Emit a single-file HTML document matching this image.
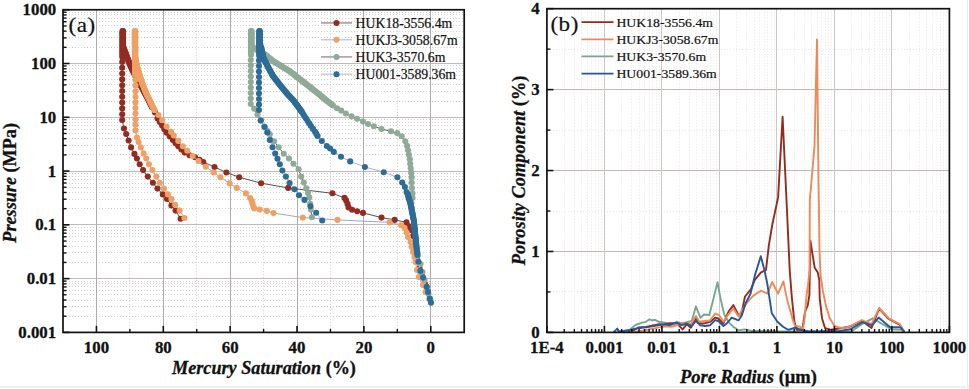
<!DOCTYPE html>
<html><head><meta charset="utf-8"><style>
html,body{margin:0;padding:0;background:#fff;}
svg{display:block;}
</style></head><body>
<svg width="969" height="389" viewBox="0 0 969 389">
<rect width="969" height="389" fill="#fff"/>
<line x1="63.0" y1="316.5" x2="464.2" y2="316.5" stroke="#d0d0d0" stroke-width="1" stroke-dasharray="1 2"/>
<line x1="63.0" y1="306.5" x2="464.2" y2="306.5" stroke="#d0d0d0" stroke-width="1" stroke-dasharray="1 2"/>
<line x1="63.0" y1="300.5" x2="464.2" y2="300.5" stroke="#d0d0d0" stroke-width="1" stroke-dasharray="1 2"/>
<line x1="63.0" y1="294.5" x2="464.2" y2="294.5" stroke="#d0d0d0" stroke-width="1" stroke-dasharray="1 2"/>
<line x1="63.0" y1="290.5" x2="464.2" y2="290.5" stroke="#d0d0d0" stroke-width="1" stroke-dasharray="1 2"/>
<line x1="63.0" y1="286.5" x2="464.2" y2="286.5" stroke="#d0d0d0" stroke-width="1" stroke-dasharray="1 2"/>
<line x1="63.0" y1="283.5" x2="464.2" y2="283.5" stroke="#d0d0d0" stroke-width="1" stroke-dasharray="1 2"/>
<line x1="63.0" y1="281.5" x2="464.2" y2="281.5" stroke="#d0d0d0" stroke-width="1" stroke-dasharray="1 2"/>
<line x1="63.0" y1="262.5" x2="464.2" y2="262.5" stroke="#d0d0d0" stroke-width="1" stroke-dasharray="1 2"/>
<line x1="63.0" y1="252.5" x2="464.2" y2="252.5" stroke="#d0d0d0" stroke-width="1" stroke-dasharray="1 2"/>
<line x1="63.0" y1="246.5" x2="464.2" y2="246.5" stroke="#d0d0d0" stroke-width="1" stroke-dasharray="1 2"/>
<line x1="63.0" y1="241.5" x2="464.2" y2="241.5" stroke="#d0d0d0" stroke-width="1" stroke-dasharray="1 2"/>
<line x1="63.0" y1="236.5" x2="464.2" y2="236.5" stroke="#d0d0d0" stroke-width="1" stroke-dasharray="1 2"/>
<line x1="63.0" y1="233.5" x2="464.2" y2="233.5" stroke="#d0d0d0" stroke-width="1" stroke-dasharray="1 2"/>
<line x1="63.0" y1="230.5" x2="464.2" y2="230.5" stroke="#d0d0d0" stroke-width="1" stroke-dasharray="1 2"/>
<line x1="63.0" y1="227.5" x2="464.2" y2="227.5" stroke="#d0d0d0" stroke-width="1" stroke-dasharray="1 2"/>
<line x1="63.0" y1="208.5" x2="464.2" y2="208.5" stroke="#d0d0d0" stroke-width="1" stroke-dasharray="1 2"/>
<line x1="63.0" y1="199.5" x2="464.2" y2="199.5" stroke="#d0d0d0" stroke-width="1" stroke-dasharray="1 2"/>
<line x1="63.0" y1="192.5" x2="464.2" y2="192.5" stroke="#d0d0d0" stroke-width="1" stroke-dasharray="1 2"/>
<line x1="63.0" y1="187.5" x2="464.2" y2="187.5" stroke="#d0d0d0" stroke-width="1" stroke-dasharray="1 2"/>
<line x1="63.0" y1="183.5" x2="464.2" y2="183.5" stroke="#d0d0d0" stroke-width="1" stroke-dasharray="1 2"/>
<line x1="63.0" y1="179.5" x2="464.2" y2="179.5" stroke="#d0d0d0" stroke-width="1" stroke-dasharray="1 2"/>
<line x1="63.0" y1="176.5" x2="464.2" y2="176.5" stroke="#d0d0d0" stroke-width="1" stroke-dasharray="1 2"/>
<line x1="63.0" y1="173.5" x2="464.2" y2="173.5" stroke="#d0d0d0" stroke-width="1" stroke-dasharray="1 2"/>
<line x1="63.0" y1="154.5" x2="464.2" y2="154.5" stroke="#d0d0d0" stroke-width="1" stroke-dasharray="1 2"/>
<line x1="63.0" y1="145.5" x2="464.2" y2="145.5" stroke="#d0d0d0" stroke-width="1" stroke-dasharray="1 2"/>
<line x1="63.0" y1="138.5" x2="464.2" y2="138.5" stroke="#d0d0d0" stroke-width="1" stroke-dasharray="1 2"/>
<line x1="63.0" y1="133.5" x2="464.2" y2="133.5" stroke="#d0d0d0" stroke-width="1" stroke-dasharray="1 2"/>
<line x1="63.0" y1="129.5" x2="464.2" y2="129.5" stroke="#d0d0d0" stroke-width="1" stroke-dasharray="1 2"/>
<line x1="63.0" y1="125.5" x2="464.2" y2="125.5" stroke="#d0d0d0" stroke-width="1" stroke-dasharray="1 2"/>
<line x1="63.0" y1="122.5" x2="464.2" y2="122.5" stroke="#d0d0d0" stroke-width="1" stroke-dasharray="1 2"/>
<line x1="63.0" y1="119.5" x2="464.2" y2="119.5" stroke="#d0d0d0" stroke-width="1" stroke-dasharray="1 2"/>
<line x1="63.0" y1="101.5" x2="464.2" y2="101.5" stroke="#d0d0d0" stroke-width="1" stroke-dasharray="1 2"/>
<line x1="63.0" y1="91.5" x2="464.2" y2="91.5" stroke="#d0d0d0" stroke-width="1" stroke-dasharray="1 2"/>
<line x1="63.0" y1="84.5" x2="464.2" y2="84.5" stroke="#d0d0d0" stroke-width="1" stroke-dasharray="1 2"/>
<line x1="63.0" y1="79.5" x2="464.2" y2="79.5" stroke="#d0d0d0" stroke-width="1" stroke-dasharray="1 2"/>
<line x1="63.0" y1="75.5" x2="464.2" y2="75.5" stroke="#d0d0d0" stroke-width="1" stroke-dasharray="1 2"/>
<line x1="63.0" y1="71.5" x2="464.2" y2="71.5" stroke="#d0d0d0" stroke-width="1" stroke-dasharray="1 2"/>
<line x1="63.0" y1="68.5" x2="464.2" y2="68.5" stroke="#d0d0d0" stroke-width="1" stroke-dasharray="1 2"/>
<line x1="63.0" y1="65.5" x2="464.2" y2="65.5" stroke="#d0d0d0" stroke-width="1" stroke-dasharray="1 2"/>
<line x1="63.0" y1="47.5" x2="464.2" y2="47.5" stroke="#d0d0d0" stroke-width="1" stroke-dasharray="1 2"/>
<line x1="63.0" y1="37.5" x2="464.2" y2="37.5" stroke="#d0d0d0" stroke-width="1" stroke-dasharray="1 2"/>
<line x1="63.0" y1="31.5" x2="464.2" y2="31.5" stroke="#d0d0d0" stroke-width="1" stroke-dasharray="1 2"/>
<line x1="63.0" y1="25.5" x2="464.2" y2="25.5" stroke="#d0d0d0" stroke-width="1" stroke-dasharray="1 2"/>
<line x1="63.0" y1="21.5" x2="464.2" y2="21.5" stroke="#d0d0d0" stroke-width="1" stroke-dasharray="1 2"/>
<line x1="63.0" y1="18.5" x2="464.2" y2="18.5" stroke="#d0d0d0" stroke-width="1" stroke-dasharray="1 2"/>
<line x1="63.0" y1="14.5" x2="464.2" y2="14.5" stroke="#d0d0d0" stroke-width="1" stroke-dasharray="1 2"/>
<line x1="63.0" y1="12.5" x2="464.2" y2="12.5" stroke="#d0d0d0" stroke-width="1" stroke-dasharray="1 2"/>
<line x1="129.5" y1="9.75" x2="129.5" y2="332.4" stroke="#d0d0d0" stroke-width="1" stroke-dasharray="1 2"/>
<line x1="196.5" y1="9.75" x2="196.5" y2="332.4" stroke="#d0d0d0" stroke-width="1" stroke-dasharray="1 2"/>
<line x1="263.5" y1="9.75" x2="263.5" y2="332.4" stroke="#d0d0d0" stroke-width="1" stroke-dasharray="1 2"/>
<line x1="330.5" y1="9.75" x2="330.5" y2="332.4" stroke="#d0d0d0" stroke-width="1" stroke-dasharray="1 2"/>
<line x1="397.5" y1="9.75" x2="397.5" y2="332.4" stroke="#d0d0d0" stroke-width="1" stroke-dasharray="1 2"/>
<line x1="63.0" y1="278.5" x2="464.2" y2="278.5" stroke="#c6bab6" stroke-width="1"/>
<line x1="63.0" y1="224.5" x2="464.2" y2="224.5" stroke="#c6bab6" stroke-width="1"/>
<line x1="63.0" y1="171.5" x2="464.2" y2="171.5" stroke="#c6bab6" stroke-width="1"/>
<line x1="63.0" y1="117.5" x2="464.2" y2="117.5" stroke="#c6bab6" stroke-width="1"/>
<line x1="63.0" y1="63.5" x2="464.2" y2="63.5" stroke="#c6bab6" stroke-width="1"/>
<line x1="96.5" y1="9.75" x2="96.5" y2="332.4" stroke="#b2aaaa" stroke-width="1"/>
<line x1="163.5" y1="9.75" x2="163.5" y2="332.4" stroke="#b2aaaa" stroke-width="1"/>
<line x1="230.5" y1="9.75" x2="230.5" y2="332.4" stroke="#b2aaaa" stroke-width="1"/>
<line x1="297.5" y1="9.75" x2="297.5" y2="332.4" stroke="#b2aaaa" stroke-width="1"/>
<line x1="363.5" y1="9.75" x2="363.5" y2="332.4" stroke="#b2aaaa" stroke-width="1"/>
<line x1="430.5" y1="9.75" x2="430.5" y2="332.4" stroke="#b2aaaa" stroke-width="1"/>
<line x1="564.5" y1="8.7" x2="564.5" y2="332.4" stroke="#e6e6e6" stroke-width="1" stroke-dasharray="1 2"/>
<line x1="574.5" y1="8.7" x2="574.5" y2="332.4" stroke="#e6e6e6" stroke-width="1" stroke-dasharray="1 2"/>
<line x1="581.5" y1="8.7" x2="581.5" y2="332.4" stroke="#e6e6e6" stroke-width="1" stroke-dasharray="1 2"/>
<line x1="587.5" y1="8.7" x2="587.5" y2="332.4" stroke="#e6e6e6" stroke-width="1" stroke-dasharray="1 2"/>
<line x1="591.5" y1="8.7" x2="591.5" y2="332.4" stroke="#e6e6e6" stroke-width="1" stroke-dasharray="1 2"/>
<line x1="595.5" y1="8.7" x2="595.5" y2="332.4" stroke="#e6e6e6" stroke-width="1" stroke-dasharray="1 2"/>
<line x1="598.5" y1="8.7" x2="598.5" y2="332.4" stroke="#e6e6e6" stroke-width="1" stroke-dasharray="1 2"/>
<line x1="601.5" y1="8.7" x2="601.5" y2="332.4" stroke="#e6e6e6" stroke-width="1" stroke-dasharray="1 2"/>
<line x1="621.5" y1="8.7" x2="621.5" y2="332.4" stroke="#e6e6e6" stroke-width="1" stroke-dasharray="1 2"/>
<line x1="631.5" y1="8.7" x2="631.5" y2="332.4" stroke="#e6e6e6" stroke-width="1" stroke-dasharray="1 2"/>
<line x1="639.5" y1="8.7" x2="639.5" y2="332.4" stroke="#e6e6e6" stroke-width="1" stroke-dasharray="1 2"/>
<line x1="644.5" y1="8.7" x2="644.5" y2="332.4" stroke="#e6e6e6" stroke-width="1" stroke-dasharray="1 2"/>
<line x1="649.5" y1="8.7" x2="649.5" y2="332.4" stroke="#e6e6e6" stroke-width="1" stroke-dasharray="1 2"/>
<line x1="652.5" y1="8.7" x2="652.5" y2="332.4" stroke="#e6e6e6" stroke-width="1" stroke-dasharray="1 2"/>
<line x1="656.5" y1="8.7" x2="656.5" y2="332.4" stroke="#e6e6e6" stroke-width="1" stroke-dasharray="1 2"/>
<line x1="659.5" y1="8.7" x2="659.5" y2="332.4" stroke="#e6e6e6" stroke-width="1" stroke-dasharray="1 2"/>
<line x1="679.5" y1="8.7" x2="679.5" y2="332.4" stroke="#e6e6e6" stroke-width="1" stroke-dasharray="1 2"/>
<line x1="689.5" y1="8.7" x2="689.5" y2="332.4" stroke="#e6e6e6" stroke-width="1" stroke-dasharray="1 2"/>
<line x1="696.5" y1="8.7" x2="696.5" y2="332.4" stroke="#e6e6e6" stroke-width="1" stroke-dasharray="1 2"/>
<line x1="702.5" y1="8.7" x2="702.5" y2="332.4" stroke="#e6e6e6" stroke-width="1" stroke-dasharray="1 2"/>
<line x1="706.5" y1="8.7" x2="706.5" y2="332.4" stroke="#e6e6e6" stroke-width="1" stroke-dasharray="1 2"/>
<line x1="710.5" y1="8.7" x2="710.5" y2="332.4" stroke="#e6e6e6" stroke-width="1" stroke-dasharray="1 2"/>
<line x1="713.5" y1="8.7" x2="713.5" y2="332.4" stroke="#e6e6e6" stroke-width="1" stroke-dasharray="1 2"/>
<line x1="716.5" y1="8.7" x2="716.5" y2="332.4" stroke="#e6e6e6" stroke-width="1" stroke-dasharray="1 2"/>
<line x1="736.5" y1="8.7" x2="736.5" y2="332.4" stroke="#e6e6e6" stroke-width="1" stroke-dasharray="1 2"/>
<line x1="746.5" y1="8.7" x2="746.5" y2="332.4" stroke="#e6e6e6" stroke-width="1" stroke-dasharray="1 2"/>
<line x1="754.5" y1="8.7" x2="754.5" y2="332.4" stroke="#e6e6e6" stroke-width="1" stroke-dasharray="1 2"/>
<line x1="759.5" y1="8.7" x2="759.5" y2="332.4" stroke="#e6e6e6" stroke-width="1" stroke-dasharray="1 2"/>
<line x1="764.5" y1="8.7" x2="764.5" y2="332.4" stroke="#e6e6e6" stroke-width="1" stroke-dasharray="1 2"/>
<line x1="767.5" y1="8.7" x2="767.5" y2="332.4" stroke="#e6e6e6" stroke-width="1" stroke-dasharray="1 2"/>
<line x1="771.5" y1="8.7" x2="771.5" y2="332.4" stroke="#e6e6e6" stroke-width="1" stroke-dasharray="1 2"/>
<line x1="774.5" y1="8.7" x2="774.5" y2="332.4" stroke="#e6e6e6" stroke-width="1" stroke-dasharray="1 2"/>
<line x1="794.5" y1="8.7" x2="794.5" y2="332.4" stroke="#e6e6e6" stroke-width="1" stroke-dasharray="1 2"/>
<line x1="804.5" y1="8.7" x2="804.5" y2="332.4" stroke="#e6e6e6" stroke-width="1" stroke-dasharray="1 2"/>
<line x1="811.5" y1="8.7" x2="811.5" y2="332.4" stroke="#e6e6e6" stroke-width="1" stroke-dasharray="1 2"/>
<line x1="817.5" y1="8.7" x2="817.5" y2="332.4" stroke="#e6e6e6" stroke-width="1" stroke-dasharray="1 2"/>
<line x1="821.5" y1="8.7" x2="821.5" y2="332.4" stroke="#e6e6e6" stroke-width="1" stroke-dasharray="1 2"/>
<line x1="825.5" y1="8.7" x2="825.5" y2="332.4" stroke="#e6e6e6" stroke-width="1" stroke-dasharray="1 2"/>
<line x1="828.5" y1="8.7" x2="828.5" y2="332.4" stroke="#e6e6e6" stroke-width="1" stroke-dasharray="1 2"/>
<line x1="831.5" y1="8.7" x2="831.5" y2="332.4" stroke="#e6e6e6" stroke-width="1" stroke-dasharray="1 2"/>
<line x1="851.5" y1="8.7" x2="851.5" y2="332.4" stroke="#e6e6e6" stroke-width="1" stroke-dasharray="1 2"/>
<line x1="861.5" y1="8.7" x2="861.5" y2="332.4" stroke="#e6e6e6" stroke-width="1" stroke-dasharray="1 2"/>
<line x1="869.5" y1="8.7" x2="869.5" y2="332.4" stroke="#e6e6e6" stroke-width="1" stroke-dasharray="1 2"/>
<line x1="874.5" y1="8.7" x2="874.5" y2="332.4" stroke="#e6e6e6" stroke-width="1" stroke-dasharray="1 2"/>
<line x1="879.5" y1="8.7" x2="879.5" y2="332.4" stroke="#e6e6e6" stroke-width="1" stroke-dasharray="1 2"/>
<line x1="882.5" y1="8.7" x2="882.5" y2="332.4" stroke="#e6e6e6" stroke-width="1" stroke-dasharray="1 2"/>
<line x1="886.5" y1="8.7" x2="886.5" y2="332.4" stroke="#e6e6e6" stroke-width="1" stroke-dasharray="1 2"/>
<line x1="889.5" y1="8.7" x2="889.5" y2="332.4" stroke="#e6e6e6" stroke-width="1" stroke-dasharray="1 2"/>
<line x1="909.5" y1="8.7" x2="909.5" y2="332.4" stroke="#e6e6e6" stroke-width="1" stroke-dasharray="1 2"/>
<line x1="919.5" y1="8.7" x2="919.5" y2="332.4" stroke="#e6e6e6" stroke-width="1" stroke-dasharray="1 2"/>
<line x1="926.5" y1="8.7" x2="926.5" y2="332.4" stroke="#e6e6e6" stroke-width="1" stroke-dasharray="1 2"/>
<line x1="932.5" y1="8.7" x2="932.5" y2="332.4" stroke="#e6e6e6" stroke-width="1" stroke-dasharray="1 2"/>
<line x1="936.5" y1="8.7" x2="936.5" y2="332.4" stroke="#e6e6e6" stroke-width="1" stroke-dasharray="1 2"/>
<line x1="940.5" y1="8.7" x2="940.5" y2="332.4" stroke="#e6e6e6" stroke-width="1" stroke-dasharray="1 2"/>
<line x1="943.5" y1="8.7" x2="943.5" y2="332.4" stroke="#e6e6e6" stroke-width="1" stroke-dasharray="1 2"/>
<line x1="946.5" y1="8.7" x2="946.5" y2="332.4" stroke="#e6e6e6" stroke-width="1" stroke-dasharray="1 2"/>
<line x1="546.9" y1="291.5" x2="949.4" y2="291.5" stroke="#e6e6e6" stroke-width="1" stroke-dasharray="1 2"/>
<line x1="546.9" y1="211.5" x2="949.4" y2="211.5" stroke="#e6e6e6" stroke-width="1" stroke-dasharray="1 2"/>
<line x1="546.9" y1="130.5" x2="949.4" y2="130.5" stroke="#e6e6e6" stroke-width="1" stroke-dasharray="1 2"/>
<line x1="546.9" y1="49.5" x2="949.4" y2="49.5" stroke="#e6e6e6" stroke-width="1" stroke-dasharray="1 2"/>
<line x1="546.9" y1="251.5" x2="949.4" y2="251.5" stroke="#c4b8b2" stroke-width="1"/>
<line x1="546.9" y1="170.5" x2="949.4" y2="170.5" stroke="#c4b8b2" stroke-width="1"/>
<line x1="546.9" y1="89.5" x2="949.4" y2="89.5" stroke="#c4b8b2" stroke-width="1"/>
<line x1="604.5" y1="8.7" x2="604.5" y2="332.4" stroke="#cdc7c7" stroke-width="1"/>
<line x1="661.5" y1="8.7" x2="661.5" y2="332.4" stroke="#cdc7c7" stroke-width="1"/>
<line x1="719.5" y1="8.7" x2="719.5" y2="332.4" stroke="#cdc7c7" stroke-width="1"/>
<line x1="776.5" y1="8.7" x2="776.5" y2="332.4" stroke="#cdc7c7" stroke-width="1"/>
<line x1="834.5" y1="8.7" x2="834.5" y2="332.4" stroke="#cdc7c7" stroke-width="1"/>
<line x1="891.5" y1="8.7" x2="891.5" y2="332.4" stroke="#cdc7c7" stroke-width="1"/>
<g>
<path d="M123,31 L123,46 L125,51.5 L127.2,57.5 L129.5,63.5 L131.7,68.4 L134.5,74 L137.5,79.5 L141,86 L144.8,93 L148.5,100 L152,107 L152,107 L155,112.5 L157.6,118.4 L162.1,125.6 L166.6,132.8 L172.9,140 L178.3,146.3 L184.6,152.6 L189.5,155.3 L195,157.3 L199.5,159.8 L203.3,162 L214.5,167 L226.4,172.5 L239.2,177.2 L261.1,183.2 L288.2,187.9 L332.4,193.3 L344.5,197.9 L346.1,200.4 L347.5,203.9 L348.6,207.4 L352.1,209.7 L357.2,211.3 L363,212.9 L381.5,217.6 L394.7,219.9 L406.5,222.3 L408.5,226.1 L410.5,230 L413,236 L414.2,244 L415.8,252 L417.3,260 L419.5,268 L422,276 L425,284 L427.5,292 L429.8,299" fill="none" stroke="#5a5050" stroke-width="1"/>
<g fill="#942b21"><circle cx="123" cy="31" r="3.05"/><circle cx="123" cy="32.25" r="3.05"/><circle cx="123" cy="33.5" r="3.05"/><circle cx="123" cy="34.75" r="3.05"/><circle cx="123" cy="36" r="3.05"/><circle cx="123" cy="37.25" r="3.05"/><circle cx="123" cy="38.5" r="3.05"/><circle cx="123" cy="39.75" r="3.05"/><circle cx="123" cy="41" r="3.05"/><circle cx="123" cy="42.25" r="3.05"/><circle cx="123" cy="43.5" r="3.05"/><circle cx="123" cy="44.75" r="3.05"/><circle cx="123" cy="46" r="3.05"/><circle cx="123.5" cy="47.38" r="3.05"/><circle cx="124" cy="48.75" r="3.05"/><circle cx="124.5" cy="50.12" r="3.05"/><circle cx="125" cy="51.5" r="3.05"/><circle cx="125.44" cy="52.7" r="3.05"/><circle cx="125.88" cy="53.9" r="3.05"/><circle cx="126.32" cy="55.1" r="3.05"/><circle cx="126.76" cy="56.3" r="3.05"/><circle cx="127.2" cy="57.5" r="3.05"/><circle cx="127.66" cy="58.7" r="3.05"/><circle cx="128.12" cy="59.9" r="3.05"/><circle cx="128.58" cy="61.1" r="3.05"/><circle cx="129.04" cy="62.3" r="3.05"/><circle cx="129.5" cy="63.5" r="3.05"/><circle cx="130.05" cy="64.72" r="3.05"/><circle cx="130.6" cy="65.95" r="3.05"/><circle cx="131.15" cy="67.18" r="3.05"/><circle cx="131.7" cy="68.4" r="3.05"/><circle cx="132.26" cy="69.52" r="3.05"/><circle cx="132.82" cy="70.64" r="3.05"/><circle cx="133.38" cy="71.76" r="3.05"/><circle cx="133.94" cy="72.88" r="3.05"/><circle cx="134.5" cy="74" r="3.05"/><circle cx="135.1" cy="75.1" r="3.05"/><circle cx="135.7" cy="76.2" r="3.05"/><circle cx="136.3" cy="77.3" r="3.05"/><circle cx="136.9" cy="78.4" r="3.05"/><circle cx="137.5" cy="79.5" r="3.05"/><circle cx="138.08" cy="80.58" r="3.05"/><circle cx="138.67" cy="81.67" r="3.05"/><circle cx="139.25" cy="82.75" r="3.05"/><circle cx="139.83" cy="83.83" r="3.05"/><circle cx="140.42" cy="84.92" r="3.05"/><circle cx="141" cy="86" r="3.05"/><circle cx="141.63" cy="87.17" r="3.05"/><circle cx="142.27" cy="88.33" r="3.05"/><circle cx="142.9" cy="89.5" r="3.05"/><circle cx="143.53" cy="90.67" r="3.05"/><circle cx="144.17" cy="91.83" r="3.05"/><circle cx="144.8" cy="93" r="3.05"/><circle cx="145.42" cy="94.17" r="3.05"/><circle cx="146.03" cy="95.33" r="3.05"/><circle cx="146.65" cy="96.5" r="3.05"/><circle cx="147.27" cy="97.67" r="3.05"/><circle cx="147.88" cy="98.83" r="3.05"/><circle cx="148.5" cy="100" r="3.05"/><circle cx="149.08" cy="101.17" r="3.05"/><circle cx="149.67" cy="102.33" r="3.05"/><circle cx="150.25" cy="103.5" r="3.05"/><circle cx="150.83" cy="104.67" r="3.05"/><circle cx="151.42" cy="105.83" r="3.05"/><circle cx="152" cy="107" r="3.05"/><circle cx="152" cy="107" r="3.05"/><circle cx="155" cy="112.5" r="3.05"/><circle cx="157.6" cy="118.4" r="3.05"/><circle cx="159.85" cy="122" r="3.05"/><circle cx="162.1" cy="125.6" r="3.05"/><circle cx="164.35" cy="129.2" r="3.05"/><circle cx="166.6" cy="132.8" r="3.05"/><circle cx="169.75" cy="136.4" r="3.05"/><circle cx="172.9" cy="140" r="3.05"/><circle cx="175.6" cy="143.15" r="3.05"/><circle cx="178.3" cy="146.3" r="3.05"/><circle cx="181.45" cy="149.45" r="3.05"/><circle cx="184.6" cy="152.6" r="3.05"/><circle cx="189.5" cy="155.3" r="3.05"/><circle cx="195" cy="157.3" r="3.05"/><circle cx="199.5" cy="159.8" r="3.05"/><circle cx="203.3" cy="162" r="3.05"/><circle cx="214.5" cy="167" r="3.05"/><circle cx="226.4" cy="172.5" r="3.05"/><circle cx="239.2" cy="177.2" r="3.05"/><circle cx="261.1" cy="183.2" r="3.05"/><circle cx="288.2" cy="187.9" r="3.05"/><circle cx="332.4" cy="193.3" r="3.05"/><circle cx="344.5" cy="197.9" r="3.05"/><circle cx="346.1" cy="200.4" r="3.05"/><circle cx="347.5" cy="203.9" r="3.05"/><circle cx="348.6" cy="207.4" r="3.05"/><circle cx="352.1" cy="209.7" r="3.05"/><circle cx="357.2" cy="211.3" r="3.05"/><circle cx="363" cy="212.9" r="3.05"/><circle cx="381.5" cy="217.6" r="3.05"/><circle cx="394.7" cy="219.9" r="3.05"/><circle cx="406.5" cy="222.3" r="3.05"/><circle cx="408.5" cy="226.1" r="3.05"/><circle cx="410.5" cy="230" r="3.05"/><circle cx="413" cy="236" r="3.05"/><circle cx="414.2" cy="244" r="3.05"/><circle cx="415.8" cy="252" r="3.05"/><circle cx="417.3" cy="260" r="3.05"/><circle cx="419.5" cy="268" r="3.05"/><circle cx="422" cy="276" r="3.05"/><circle cx="425" cy="284" r="3.05"/><circle cx="427.5" cy="292" r="3.05"/><circle cx="429.8" cy="299" r="3.05"/></g>
<path d="M122.5,31 L122.5,57.5 L122.2,62 L122.2,67.8 L122.2,73.6 L122.2,79.4 L122.2,85.2 L122.2,91 L122.2,96.8 L122.2,102.6 L122.2,108.4 L122.2,114.2 L122.2,120 L124,128.5 L126.2,134 L128.6,140.5 L131.1,147.4 L134.4,153.9 L136.9,158.5 L139.7,164.3 L143.1,170.1 L147.8,176.6 L152.9,182.8 L157.5,188.6 L162.8,194.4 L167,199 L171.4,205.5 L175.6,210.6 L180.6,218.7" fill="none" stroke="#5a5050" stroke-width="1"/>
<g fill="#942b21"><circle cx="122.5" cy="31" r="3.05"/><circle cx="122.5" cy="32.2" r="3.05"/><circle cx="122.5" cy="33.41" r="3.05"/><circle cx="122.5" cy="34.61" r="3.05"/><circle cx="122.5" cy="35.82" r="3.05"/><circle cx="122.5" cy="37.02" r="3.05"/><circle cx="122.5" cy="38.23" r="3.05"/><circle cx="122.5" cy="39.43" r="3.05"/><circle cx="122.5" cy="40.64" r="3.05"/><circle cx="122.5" cy="41.84" r="3.05"/><circle cx="122.5" cy="43.05" r="3.05"/><circle cx="122.5" cy="44.25" r="3.05"/><circle cx="122.5" cy="45.45" r="3.05"/><circle cx="122.5" cy="46.66" r="3.05"/><circle cx="122.5" cy="47.86" r="3.05"/><circle cx="122.5" cy="49.07" r="3.05"/><circle cx="122.5" cy="50.27" r="3.05"/><circle cx="122.5" cy="51.48" r="3.05"/><circle cx="122.5" cy="52.68" r="3.05"/><circle cx="122.5" cy="53.89" r="3.05"/><circle cx="122.5" cy="55.09" r="3.05"/><circle cx="122.5" cy="56.3" r="3.05"/><circle cx="122.5" cy="57.5" r="3.05"/><circle cx="122.2" cy="62" r="3.05"/><circle cx="122.2" cy="67.8" r="3.05"/><circle cx="122.2" cy="73.6" r="3.05"/><circle cx="122.2" cy="79.4" r="3.05"/><circle cx="122.2" cy="85.2" r="3.05"/><circle cx="122.2" cy="91" r="3.05"/><circle cx="122.2" cy="96.8" r="3.05"/><circle cx="122.2" cy="102.6" r="3.05"/><circle cx="122.2" cy="108.4" r="3.05"/><circle cx="122.2" cy="114.2" r="3.05"/><circle cx="122.2" cy="120" r="3.05"/><circle cx="124" cy="128.5" r="3.05"/><circle cx="126.2" cy="134" r="3.05"/><circle cx="128.6" cy="140.5" r="3.05"/><circle cx="131.1" cy="147.4" r="3.05"/><circle cx="134.4" cy="153.9" r="3.05"/><circle cx="136.9" cy="158.5" r="3.05"/><circle cx="139.7" cy="164.3" r="3.05"/><circle cx="143.1" cy="170.1" r="3.05"/><circle cx="147.8" cy="176.6" r="3.05"/><circle cx="152.9" cy="182.8" r="3.05"/><circle cx="157.5" cy="188.6" r="3.05"/><circle cx="162.8" cy="194.4" r="3.05"/><circle cx="167" cy="199" r="3.05"/><circle cx="171.4" cy="205.5" r="3.05"/><circle cx="175.6" cy="210.6" r="3.05"/><circle cx="180.6" cy="218.7" r="3.05"/></g>
<path d="M134.8,31 L134.8,45 L135,55 L136,62 L137.5,68 L139.5,75 L141.8,82 L144,88 L146.5,94 L149.5,100 L151.8,105 L154.5,110 L154.5,110 L158.5,115 L162.1,120.2 L166.6,126.5 L171.1,131.9 L173.8,135.5 L178.3,140.9 L182.8,146.3 L187.3,150.8 L192.7,156 L198.5,161 L205.8,166.7 L213.7,172.5 L220.4,177.2 L229.7,183.4 L236.7,187.9 L245.9,193.4 L250.1,198.1 L251.8,200.9 L252.6,203.7 L253.4,206.7 L254.3,208.4 L259.8,209.6 L266.8,210.9 L273.5,213.1 L302.8,217.6 L337.5,219.9 L389.6,222.4 L401.2,225.2 L404.6,228 L406.6,232.5 L407.9,237 L410.5,242 L411.7,247 L413,252 L414.5,257 L415.5,262 L417,270 L418.8,277 L423,285 L425.5,292" fill="none" stroke="#98a8dc" stroke-width="1"/>
<g fill="#efa064"><circle cx="134.8" cy="31" r="3.05"/><circle cx="134.8" cy="32.27" r="3.05"/><circle cx="134.8" cy="33.55" r="3.05"/><circle cx="134.8" cy="34.82" r="3.05"/><circle cx="134.8" cy="36.09" r="3.05"/><circle cx="134.8" cy="37.36" r="3.05"/><circle cx="134.8" cy="38.64" r="3.05"/><circle cx="134.8" cy="39.91" r="3.05"/><circle cx="134.8" cy="41.18" r="3.05"/><circle cx="134.8" cy="42.45" r="3.05"/><circle cx="134.8" cy="43.73" r="3.05"/><circle cx="134.8" cy="45" r="3.05"/><circle cx="134.83" cy="46.25" r="3.05"/><circle cx="134.85" cy="47.5" r="3.05"/><circle cx="134.88" cy="48.75" r="3.05"/><circle cx="134.9" cy="50" r="3.05"/><circle cx="134.93" cy="51.25" r="3.05"/><circle cx="134.95" cy="52.5" r="3.05"/><circle cx="134.97" cy="53.75" r="3.05"/><circle cx="135" cy="55" r="3.05"/><circle cx="135.2" cy="56.4" r="3.05"/><circle cx="135.4" cy="57.8" r="3.05"/><circle cx="135.6" cy="59.2" r="3.05"/><circle cx="135.8" cy="60.6" r="3.05"/><circle cx="136" cy="62" r="3.05"/><circle cx="136.3" cy="63.2" r="3.05"/><circle cx="136.6" cy="64.4" r="3.05"/><circle cx="136.9" cy="65.6" r="3.05"/><circle cx="137.2" cy="66.8" r="3.05"/><circle cx="137.5" cy="68" r="3.05"/><circle cx="137.83" cy="69.17" r="3.05"/><circle cx="138.17" cy="70.33" r="3.05"/><circle cx="138.5" cy="71.5" r="3.05"/><circle cx="138.83" cy="72.67" r="3.05"/><circle cx="139.17" cy="73.83" r="3.05"/><circle cx="139.5" cy="75" r="3.05"/><circle cx="139.88" cy="76.17" r="3.05"/><circle cx="140.27" cy="77.33" r="3.05"/><circle cx="140.65" cy="78.5" r="3.05"/><circle cx="141.03" cy="79.67" r="3.05"/><circle cx="141.42" cy="80.83" r="3.05"/><circle cx="141.8" cy="82" r="3.05"/><circle cx="142.24" cy="83.2" r="3.05"/><circle cx="142.68" cy="84.4" r="3.05"/><circle cx="143.12" cy="85.6" r="3.05"/><circle cx="143.56" cy="86.8" r="3.05"/><circle cx="144" cy="88" r="3.05"/><circle cx="144.5" cy="89.2" r="3.05"/><circle cx="145" cy="90.4" r="3.05"/><circle cx="145.5" cy="91.6" r="3.05"/><circle cx="146" cy="92.8" r="3.05"/><circle cx="146.5" cy="94" r="3.05"/><circle cx="147.1" cy="95.2" r="3.05"/><circle cx="147.7" cy="96.4" r="3.05"/><circle cx="148.3" cy="97.6" r="3.05"/><circle cx="148.9" cy="98.8" r="3.05"/><circle cx="149.5" cy="100" r="3.05"/><circle cx="150.07" cy="101.25" r="3.05"/><circle cx="150.65" cy="102.5" r="3.05"/><circle cx="151.23" cy="103.75" r="3.05"/><circle cx="151.8" cy="105" r="3.05"/><circle cx="152.48" cy="106.25" r="3.05"/><circle cx="153.15" cy="107.5" r="3.05"/><circle cx="153.82" cy="108.75" r="3.05"/><circle cx="154.5" cy="110" r="3.05"/><circle cx="154.5" cy="110" r="3.05"/><circle cx="158.5" cy="115" r="3.05"/><circle cx="162.1" cy="120.2" r="3.05"/><circle cx="166.6" cy="126.5" r="3.05"/><circle cx="171.1" cy="131.9" r="3.05"/><circle cx="173.8" cy="135.5" r="3.05"/><circle cx="178.3" cy="140.9" r="3.05"/><circle cx="182.8" cy="146.3" r="3.05"/><circle cx="187.3" cy="150.8" r="3.05"/><circle cx="192.7" cy="156" r="3.05"/><circle cx="198.5" cy="161" r="3.05"/><circle cx="205.8" cy="166.7" r="3.05"/><circle cx="213.7" cy="172.5" r="3.05"/><circle cx="220.4" cy="177.2" r="3.05"/><circle cx="229.7" cy="183.4" r="3.05"/><circle cx="236.7" cy="187.9" r="3.05"/><circle cx="245.9" cy="193.4" r="3.05"/><circle cx="250.1" cy="198.1" r="3.05"/><circle cx="251.8" cy="200.9" r="3.05"/><circle cx="252.6" cy="203.7" r="3.05"/><circle cx="253.4" cy="206.7" r="3.05"/><circle cx="254.3" cy="208.4" r="3.05"/><circle cx="259.8" cy="209.6" r="3.05"/><circle cx="266.8" cy="210.9" r="3.05"/><circle cx="273.5" cy="213.1" r="3.05"/><circle cx="302.8" cy="217.6" r="3.05"/><circle cx="337.5" cy="219.9" r="3.05"/><circle cx="389.6" cy="222.4" r="3.05"/><circle cx="401.2" cy="225.2" r="3.05"/><circle cx="404.6" cy="228" r="3.05"/><circle cx="406.6" cy="232.5" r="3.05"/><circle cx="407.9" cy="237" r="3.05"/><circle cx="410.5" cy="242" r="3.05"/><circle cx="411.7" cy="247" r="3.05"/><circle cx="413" cy="252" r="3.05"/><circle cx="414.5" cy="257" r="3.05"/><circle cx="415.5" cy="262" r="3.05"/><circle cx="417" cy="270" r="3.05"/><circle cx="418.8" cy="277" r="3.05"/><circle cx="423" cy="285" r="3.05"/><circle cx="425.5" cy="292" r="3.05"/></g>
<path d="M135.2,31 L135.2,75 L135.5,80 L135.5,85.6 L135.5,91.2 L135.5,96.8 L135.5,102.4 L135.5,108 L135.5,113.6 L135.5,119.2 L135.5,124.8 L135.5,130.4 L137,137.5 L138.5,142 L140.8,147.4 L143.6,153.4 L146.2,158.5 L148.9,164.3 L152.4,170.1 L156.3,176.6 L159.8,182.8 L164,188.6 L167.9,194.4 L171.4,199 L175.1,204.8 L179.7,210.6 L184.4,218" fill="none" stroke="#98a8dc" stroke-width="1"/>
<g fill="#efa064"><circle cx="135.2" cy="31" r="3.05"/><circle cx="135.2" cy="32.22" r="3.05"/><circle cx="135.2" cy="33.44" r="3.05"/><circle cx="135.2" cy="34.67" r="3.05"/><circle cx="135.2" cy="35.89" r="3.05"/><circle cx="135.2" cy="37.11" r="3.05"/><circle cx="135.2" cy="38.33" r="3.05"/><circle cx="135.2" cy="39.56" r="3.05"/><circle cx="135.2" cy="40.78" r="3.05"/><circle cx="135.2" cy="42" r="3.05"/><circle cx="135.2" cy="43.22" r="3.05"/><circle cx="135.2" cy="44.44" r="3.05"/><circle cx="135.2" cy="45.67" r="3.05"/><circle cx="135.2" cy="46.89" r="3.05"/><circle cx="135.2" cy="48.11" r="3.05"/><circle cx="135.2" cy="49.33" r="3.05"/><circle cx="135.2" cy="50.56" r="3.05"/><circle cx="135.2" cy="51.78" r="3.05"/><circle cx="135.2" cy="53" r="3.05"/><circle cx="135.2" cy="54.22" r="3.05"/><circle cx="135.2" cy="55.44" r="3.05"/><circle cx="135.2" cy="56.67" r="3.05"/><circle cx="135.2" cy="57.89" r="3.05"/><circle cx="135.2" cy="59.11" r="3.05"/><circle cx="135.2" cy="60.33" r="3.05"/><circle cx="135.2" cy="61.56" r="3.05"/><circle cx="135.2" cy="62.78" r="3.05"/><circle cx="135.2" cy="64" r="3.05"/><circle cx="135.2" cy="65.22" r="3.05"/><circle cx="135.2" cy="66.44" r="3.05"/><circle cx="135.2" cy="67.67" r="3.05"/><circle cx="135.2" cy="68.89" r="3.05"/><circle cx="135.2" cy="70.11" r="3.05"/><circle cx="135.2" cy="71.33" r="3.05"/><circle cx="135.2" cy="72.56" r="3.05"/><circle cx="135.2" cy="73.78" r="3.05"/><circle cx="135.2" cy="75" r="3.05"/><circle cx="135.5" cy="80" r="3.05"/><circle cx="135.5" cy="85.6" r="3.05"/><circle cx="135.5" cy="91.2" r="3.05"/><circle cx="135.5" cy="96.8" r="3.05"/><circle cx="135.5" cy="102.4" r="3.05"/><circle cx="135.5" cy="108" r="3.05"/><circle cx="135.5" cy="113.6" r="3.05"/><circle cx="135.5" cy="119.2" r="3.05"/><circle cx="135.5" cy="124.8" r="3.05"/><circle cx="135.5" cy="130.4" r="3.05"/><circle cx="137" cy="137.5" r="3.05"/><circle cx="138.5" cy="142" r="3.05"/><circle cx="140.8" cy="147.4" r="3.05"/><circle cx="143.6" cy="153.4" r="3.05"/><circle cx="146.2" cy="158.5" r="3.05"/><circle cx="148.9" cy="164.3" r="3.05"/><circle cx="152.4" cy="170.1" r="3.05"/><circle cx="156.3" cy="176.6" r="3.05"/><circle cx="159.8" cy="182.8" r="3.05"/><circle cx="164" cy="188.6" r="3.05"/><circle cx="167.9" cy="194.4" r="3.05"/><circle cx="171.4" cy="199" r="3.05"/><circle cx="175.1" cy="204.8" r="3.05"/><circle cx="179.7" cy="210.6" r="3.05"/><circle cx="184.4" cy="218" r="3.05"/></g>
<path d="M251.5,31 L251.5,46 L255,49 L260,51.5 L265,54.5 L273,61 L282,66.5 L290,71.5 L300,79.3 L315,91 L326.2,100.2 L333,105.5 L337,108.3 L341.2,110.6 L345.8,113.5 L351.6,116.4 L357.1,118.7 L362.9,121.6 L368,124 L373.8,126.3 L381.5,129 L390.9,131.3 L397.2,133.1 L401.7,136.2 L405.3,141.2 L407.1,145.7 L408,150.2 L408.9,154.7 L409.8,159.2 L410.2,163.7 L410.7,168.2 L411.2,172.7 L411.6,177.2 L411.6,182.6 L412,188 L412.5,193.4 L412.6,198 L411.5,203 L412,208 L412.6,213 L413.2,217.5 L413.9,222 L414.8,230 L415.7,239 L416.6,248 L417.5,256 L420.5,264 L422.5,272 L424.5,280 L426.5,287 L428.5,294 L430.3,300" fill="none" stroke="#5a5a5a" stroke-width="1"/>
<g fill="#8fab98"><circle cx="251.5" cy="31" r="3.05"/><circle cx="251.5" cy="32.25" r="3.05"/><circle cx="251.5" cy="33.5" r="3.05"/><circle cx="251.5" cy="34.75" r="3.05"/><circle cx="251.5" cy="36" r="3.05"/><circle cx="251.5" cy="37.25" r="3.05"/><circle cx="251.5" cy="38.5" r="3.05"/><circle cx="251.5" cy="39.75" r="3.05"/><circle cx="251.5" cy="41" r="3.05"/><circle cx="251.5" cy="42.25" r="3.05"/><circle cx="251.5" cy="43.5" r="3.05"/><circle cx="251.5" cy="44.75" r="3.05"/><circle cx="251.5" cy="46" r="3.05"/><circle cx="252.67" cy="47" r="3.05"/><circle cx="253.83" cy="48" r="3.05"/><circle cx="255" cy="49" r="3.05"/><circle cx="256.25" cy="49.62" r="3.05"/><circle cx="257.5" cy="50.25" r="3.05"/><circle cx="258.75" cy="50.88" r="3.05"/><circle cx="260" cy="51.5" r="3.05"/><circle cx="261.25" cy="52.25" r="3.05"/><circle cx="262.5" cy="53" r="3.05"/><circle cx="263.75" cy="53.75" r="3.05"/><circle cx="265" cy="54.5" r="3.05"/><circle cx="266" cy="55.31" r="3.05"/><circle cx="267" cy="56.12" r="3.05"/><circle cx="268" cy="56.94" r="3.05"/><circle cx="269" cy="57.75" r="3.05"/><circle cx="270" cy="58.56" r="3.05"/><circle cx="271" cy="59.38" r="3.05"/><circle cx="272" cy="60.19" r="3.05"/><circle cx="273" cy="61" r="3.05"/><circle cx="274.12" cy="61.69" r="3.05"/><circle cx="275.25" cy="62.38" r="3.05"/><circle cx="276.38" cy="63.06" r="3.05"/><circle cx="277.5" cy="63.75" r="3.05"/><circle cx="278.62" cy="64.44" r="3.05"/><circle cx="279.75" cy="65.12" r="3.05"/><circle cx="280.88" cy="65.81" r="3.05"/><circle cx="282" cy="66.5" r="3.05"/><circle cx="283.14" cy="67.21" r="3.05"/><circle cx="284.29" cy="67.93" r="3.05"/><circle cx="285.43" cy="68.64" r="3.05"/><circle cx="286.57" cy="69.36" r="3.05"/><circle cx="287.71" cy="70.07" r="3.05"/><circle cx="288.86" cy="70.79" r="3.05"/><circle cx="290" cy="71.5" r="3.05"/><circle cx="291" cy="72.28" r="3.05"/><circle cx="292" cy="73.06" r="3.05"/><circle cx="293" cy="73.84" r="3.05"/><circle cx="294" cy="74.62" r="3.05"/><circle cx="295" cy="75.4" r="3.05"/><circle cx="296" cy="76.18" r="3.05"/><circle cx="297" cy="76.96" r="3.05"/><circle cx="298" cy="77.74" r="3.05"/><circle cx="299" cy="78.52" r="3.05"/><circle cx="300" cy="79.3" r="3.05"/><circle cx="301" cy="80.08" r="3.05"/><circle cx="302" cy="80.86" r="3.05"/><circle cx="303" cy="81.64" r="3.05"/><circle cx="304" cy="82.42" r="3.05"/><circle cx="305" cy="83.2" r="3.05"/><circle cx="306" cy="83.98" r="3.05"/><circle cx="307" cy="84.76" r="3.05"/><circle cx="308" cy="85.54" r="3.05"/><circle cx="309" cy="86.32" r="3.05"/><circle cx="310" cy="87.1" r="3.05"/><circle cx="311" cy="87.88" r="3.05"/><circle cx="312" cy="88.66" r="3.05"/><circle cx="313" cy="89.44" r="3.05"/><circle cx="314" cy="90.22" r="3.05"/><circle cx="315" cy="91" r="3.05"/><circle cx="315.93" cy="91.77" r="3.05"/><circle cx="316.87" cy="92.53" r="3.05"/><circle cx="317.8" cy="93.3" r="3.05"/><circle cx="318.73" cy="94.07" r="3.05"/><circle cx="319.67" cy="94.83" r="3.05"/><circle cx="320.6" cy="95.6" r="3.05"/><circle cx="321.53" cy="96.37" r="3.05"/><circle cx="322.47" cy="97.13" r="3.05"/><circle cx="323.4" cy="97.9" r="3.05"/><circle cx="324.33" cy="98.67" r="3.05"/><circle cx="325.27" cy="99.43" r="3.05"/><circle cx="326.2" cy="100.2" r="3.05"/><circle cx="327.17" cy="100.96" r="3.05"/><circle cx="328.14" cy="101.71" r="3.05"/><circle cx="329.11" cy="102.47" r="3.05"/><circle cx="330.09" cy="103.23" r="3.05"/><circle cx="331.06" cy="103.99" r="3.05"/><circle cx="332.03" cy="104.74" r="3.05"/><circle cx="333" cy="105.5" r="3.05"/><circle cx="337" cy="108.3" r="3.05"/><circle cx="341.2" cy="110.6" r="3.05"/><circle cx="345.8" cy="113.5" r="3.05"/><circle cx="351.6" cy="116.4" r="3.05"/><circle cx="357.1" cy="118.7" r="3.05"/><circle cx="362.9" cy="121.6" r="3.05"/><circle cx="368" cy="124" r="3.05"/><circle cx="373.8" cy="126.3" r="3.05"/><circle cx="381.5" cy="129" r="3.05"/><circle cx="390.9" cy="131.3" r="3.05"/><circle cx="397.2" cy="133.1" r="3.05"/><circle cx="401.7" cy="136.2" r="3.05"/><circle cx="405.3" cy="141.2" r="3.05"/><circle cx="407.1" cy="145.7" r="3.05"/><circle cx="408" cy="150.2" r="3.05"/><circle cx="408.9" cy="154.7" r="3.05"/><circle cx="409.8" cy="159.2" r="3.05"/><circle cx="410.2" cy="163.7" r="3.05"/><circle cx="410.7" cy="168.2" r="3.05"/><circle cx="411.2" cy="172.7" r="3.05"/><circle cx="411.6" cy="177.2" r="3.05"/><circle cx="411.6" cy="182.6" r="3.05"/><circle cx="412" cy="188" r="3.05"/><circle cx="412.5" cy="193.4" r="3.05"/><circle cx="412.6" cy="198" r="3.05"/><circle cx="411.5" cy="203" r="3.05"/><circle cx="412" cy="208" r="3.05"/><circle cx="412.6" cy="213" r="3.05"/><circle cx="413.2" cy="217.5" r="3.05"/><circle cx="413.9" cy="222" r="3.05"/><circle cx="414.8" cy="230" r="3.05"/><circle cx="415.7" cy="239" r="3.05"/><circle cx="416.6" cy="248" r="3.05"/><circle cx="417.5" cy="256" r="3.05"/><circle cx="420.5" cy="264" r="3.05"/><circle cx="422.5" cy="272" r="3.05"/><circle cx="424.5" cy="280" r="3.05"/><circle cx="426.5" cy="287" r="3.05"/><circle cx="428.5" cy="294" r="3.05"/><circle cx="430.3" cy="300" r="3.05"/></g>
<path d="M251,31 L251,55 L250.8,60 L250.8,65.5 L250.8,71 L250.8,76.5 L250.8,82 L250.8,87.5 L250.8,93 L250.8,98.5 L250.8,104 L254.2,108.8 L257.5,114.5 L261,120.5 L264.5,126.5 L267.5,131 L269.8,134.2 L274,141.4 L278.7,147.2 L283.8,153.8 L289,158.5 L293.5,163.7 L298.6,169.2 L301.2,176.6 L303.8,182.6 L306.3,188.4 L308,192.9 L309.3,197.4 L310.2,203.8 L310.8,209.6 L311.9,217.3" fill="none" stroke="#5a5a5a" stroke-width="1"/>
<g fill="#8fab98"><circle cx="251" cy="31" r="3.05"/><circle cx="251" cy="32.2" r="3.05"/><circle cx="251" cy="33.4" r="3.05"/><circle cx="251" cy="34.6" r="3.05"/><circle cx="251" cy="35.8" r="3.05"/><circle cx="251" cy="37" r="3.05"/><circle cx="251" cy="38.2" r="3.05"/><circle cx="251" cy="39.4" r="3.05"/><circle cx="251" cy="40.6" r="3.05"/><circle cx="251" cy="41.8" r="3.05"/><circle cx="251" cy="43" r="3.05"/><circle cx="251" cy="44.2" r="3.05"/><circle cx="251" cy="45.4" r="3.05"/><circle cx="251" cy="46.6" r="3.05"/><circle cx="251" cy="47.8" r="3.05"/><circle cx="251" cy="49" r="3.05"/><circle cx="251" cy="50.2" r="3.05"/><circle cx="251" cy="51.4" r="3.05"/><circle cx="251" cy="52.6" r="3.05"/><circle cx="251" cy="53.8" r="3.05"/><circle cx="251" cy="55" r="3.05"/><circle cx="250.8" cy="60" r="3.05"/><circle cx="250.8" cy="65.5" r="3.05"/><circle cx="250.8" cy="71" r="3.05"/><circle cx="250.8" cy="76.5" r="3.05"/><circle cx="250.8" cy="82" r="3.05"/><circle cx="250.8" cy="87.5" r="3.05"/><circle cx="250.8" cy="93" r="3.05"/><circle cx="250.8" cy="98.5" r="3.05"/><circle cx="250.8" cy="104" r="3.05"/><circle cx="254.2" cy="108.8" r="3.05"/><circle cx="257.5" cy="114.5" r="3.05"/><circle cx="261" cy="120.5" r="3.05"/><circle cx="264.5" cy="126.5" r="3.05"/><circle cx="267.5" cy="131" r="3.05"/><circle cx="269.8" cy="134.2" r="3.05"/><circle cx="274" cy="141.4" r="3.05"/><circle cx="278.7" cy="147.2" r="3.05"/><circle cx="283.8" cy="153.8" r="3.05"/><circle cx="289" cy="158.5" r="3.05"/><circle cx="293.5" cy="163.7" r="3.05"/><circle cx="298.6" cy="169.2" r="3.05"/><circle cx="301.2" cy="176.6" r="3.05"/><circle cx="303.8" cy="182.6" r="3.05"/><circle cx="306.3" cy="188.4" r="3.05"/><circle cx="308" cy="192.9" r="3.05"/><circle cx="309.3" cy="197.4" r="3.05"/><circle cx="310.2" cy="203.8" r="3.05"/><circle cx="310.8" cy="209.6" r="3.05"/><circle cx="311.9" cy="217.3" r="3.05"/></g>
<path d="M259.8,31 L259.8,44 L261,47 L263.5,58 L268,67 L273,76 L280,85 L287.4,94 L293.5,100.5 L298,106.5 L301.7,111.7 L301.7,111.7 L306,118.5 L310.9,126 L315.1,131.8 L317.6,136 L321.8,141 L326.8,146 L330.1,148.5 L333.8,151.9 L341,156.7 L350.2,161.4 L364.9,167 L383.7,172.2 L397.4,177.2 L402.2,182.6 L404.9,187.1 L406.6,192 L407.6,194 L410.3,203 L412.1,212 L413.9,221 L414.8,230 L415.7,239 L416.6,248 L417.5,255 L418.4,261.7 L420.4,270.9 L423.1,277.6 L426.8,286.8 L428.1,291.9 L429.8,298.6 L431,302.7" fill="none" stroke="#c8a8c8" stroke-width="1"/>
<g fill="#2d6c97"><circle cx="259.8" cy="31" r="3.05"/><circle cx="259.8" cy="32.3" r="3.05"/><circle cx="259.8" cy="33.6" r="3.05"/><circle cx="259.8" cy="34.9" r="3.05"/><circle cx="259.8" cy="36.2" r="3.05"/><circle cx="259.8" cy="37.5" r="3.05"/><circle cx="259.8" cy="38.8" r="3.05"/><circle cx="259.8" cy="40.1" r="3.05"/><circle cx="259.8" cy="41.4" r="3.05"/><circle cx="259.8" cy="42.7" r="3.05"/><circle cx="259.8" cy="44" r="3.05"/><circle cx="260.4" cy="45.5" r="3.05"/><circle cx="261" cy="47" r="3.05"/><circle cx="261.28" cy="48.22" r="3.05"/><circle cx="261.56" cy="49.44" r="3.05"/><circle cx="261.83" cy="50.67" r="3.05"/><circle cx="262.11" cy="51.89" r="3.05"/><circle cx="262.39" cy="53.11" r="3.05"/><circle cx="262.67" cy="54.33" r="3.05"/><circle cx="262.94" cy="55.56" r="3.05"/><circle cx="263.22" cy="56.78" r="3.05"/><circle cx="263.5" cy="58" r="3.05"/><circle cx="264.06" cy="59.12" r="3.05"/><circle cx="264.62" cy="60.25" r="3.05"/><circle cx="265.19" cy="61.38" r="3.05"/><circle cx="265.75" cy="62.5" r="3.05"/><circle cx="266.31" cy="63.62" r="3.05"/><circle cx="266.88" cy="64.75" r="3.05"/><circle cx="267.44" cy="65.88" r="3.05"/><circle cx="268" cy="67" r="3.05"/><circle cx="268.62" cy="68.12" r="3.05"/><circle cx="269.25" cy="69.25" r="3.05"/><circle cx="269.88" cy="70.38" r="3.05"/><circle cx="270.5" cy="71.5" r="3.05"/><circle cx="271.12" cy="72.62" r="3.05"/><circle cx="271.75" cy="73.75" r="3.05"/><circle cx="272.38" cy="74.88" r="3.05"/><circle cx="273" cy="76" r="3.05"/><circle cx="273.78" cy="77" r="3.05"/><circle cx="274.56" cy="78" r="3.05"/><circle cx="275.33" cy="79" r="3.05"/><circle cx="276.11" cy="80" r="3.05"/><circle cx="276.89" cy="81" r="3.05"/><circle cx="277.67" cy="82" r="3.05"/><circle cx="278.44" cy="83" r="3.05"/><circle cx="279.22" cy="84" r="3.05"/><circle cx="280" cy="85" r="3.05"/><circle cx="280.82" cy="86" r="3.05"/><circle cx="281.64" cy="87" r="3.05"/><circle cx="282.47" cy="88" r="3.05"/><circle cx="283.29" cy="89" r="3.05"/><circle cx="284.11" cy="90" r="3.05"/><circle cx="284.93" cy="91" r="3.05"/><circle cx="285.76" cy="92" r="3.05"/><circle cx="286.58" cy="93" r="3.05"/><circle cx="287.4" cy="94" r="3.05"/><circle cx="288.27" cy="94.93" r="3.05"/><circle cx="289.14" cy="95.86" r="3.05"/><circle cx="290.01" cy="96.79" r="3.05"/><circle cx="290.89" cy="97.71" r="3.05"/><circle cx="291.76" cy="98.64" r="3.05"/><circle cx="292.63" cy="99.57" r="3.05"/><circle cx="293.5" cy="100.5" r="3.05"/><circle cx="294.25" cy="101.5" r="3.05"/><circle cx="295" cy="102.5" r="3.05"/><circle cx="295.75" cy="103.5" r="3.05"/><circle cx="296.5" cy="104.5" r="3.05"/><circle cx="297.25" cy="105.5" r="3.05"/><circle cx="298" cy="106.5" r="3.05"/><circle cx="298.74" cy="107.54" r="3.05"/><circle cx="299.48" cy="108.58" r="3.05"/><circle cx="300.22" cy="109.62" r="3.05"/><circle cx="300.96" cy="110.66" r="3.05"/><circle cx="301.7" cy="111.7" r="3.05"/><circle cx="301.7" cy="111.7" r="3.05"/><circle cx="303.13" cy="113.97" r="3.05"/><circle cx="304.57" cy="116.23" r="3.05"/><circle cx="306" cy="118.5" r="3.05"/><circle cx="307.63" cy="121" r="3.05"/><circle cx="309.27" cy="123.5" r="3.05"/><circle cx="310.9" cy="126" r="3.05"/><circle cx="313" cy="128.9" r="3.05"/><circle cx="315.1" cy="131.8" r="3.05"/><circle cx="316.35" cy="133.9" r="3.05"/><circle cx="317.6" cy="136" r="3.05"/><circle cx="321.8" cy="141" r="3.05"/><circle cx="326.8" cy="146" r="3.05"/><circle cx="330.1" cy="148.5" r="3.05"/><circle cx="333.8" cy="151.9" r="3.05"/><circle cx="341" cy="156.7" r="3.05"/><circle cx="350.2" cy="161.4" r="3.05"/><circle cx="364.9" cy="167" r="3.05"/><circle cx="383.7" cy="172.2" r="3.05"/><circle cx="397.4" cy="177.2" r="3.05"/><circle cx="402.2" cy="182.6" r="3.05"/><circle cx="404.9" cy="187.1" r="3.05"/><circle cx="406.6" cy="192" r="3.05"/><circle cx="407.6" cy="194" r="3.05"/><circle cx="408.05" cy="195.5" r="3.05"/><circle cx="408.5" cy="197" r="3.05"/><circle cx="408.95" cy="198.5" r="3.05"/><circle cx="409.4" cy="200" r="3.05"/><circle cx="409.85" cy="201.5" r="3.05"/><circle cx="410.3" cy="203" r="3.05"/><circle cx="410.6" cy="204.5" r="3.05"/><circle cx="410.9" cy="206" r="3.05"/><circle cx="411.2" cy="207.5" r="3.05"/><circle cx="411.5" cy="209" r="3.05"/><circle cx="411.8" cy="210.5" r="3.05"/><circle cx="412.1" cy="212" r="3.05"/><circle cx="412.4" cy="213.5" r="3.05"/><circle cx="412.7" cy="215" r="3.05"/><circle cx="413" cy="216.5" r="3.05"/><circle cx="413.3" cy="218" r="3.05"/><circle cx="413.6" cy="219.5" r="3.05"/><circle cx="413.9" cy="221" r="3.05"/><circle cx="414.05" cy="222.5" r="3.05"/><circle cx="414.2" cy="224" r="3.05"/><circle cx="414.35" cy="225.5" r="3.05"/><circle cx="414.5" cy="227" r="3.05"/><circle cx="414.65" cy="228.5" r="3.05"/><circle cx="414.8" cy="230" r="3.05"/><circle cx="414.95" cy="231.5" r="3.05"/><circle cx="415.1" cy="233" r="3.05"/><circle cx="415.25" cy="234.5" r="3.05"/><circle cx="415.4" cy="236" r="3.05"/><circle cx="415.55" cy="237.5" r="3.05"/><circle cx="415.7" cy="239" r="3.05"/><circle cx="415.85" cy="240.5" r="3.05"/><circle cx="416" cy="242" r="3.05"/><circle cx="416.15" cy="243.5" r="3.05"/><circle cx="416.3" cy="245" r="3.05"/><circle cx="416.45" cy="246.5" r="3.05"/><circle cx="416.6" cy="248" r="3.05"/><circle cx="416.83" cy="249.75" r="3.05"/><circle cx="417.05" cy="251.5" r="3.05"/><circle cx="417.27" cy="253.25" r="3.05"/><circle cx="417.5" cy="255" r="3.05"/><circle cx="418.4" cy="261.7" r="3.05"/><circle cx="420.4" cy="270.9" r="3.05"/><circle cx="423.1" cy="277.6" r="3.05"/><circle cx="426.8" cy="286.8" r="3.05"/><circle cx="428.1" cy="291.9" r="3.05"/><circle cx="429.8" cy="298.6" r="3.05"/><circle cx="431" cy="302.7" r="3.05"/></g>
<path d="M259.3,31 L259.3,56 L259,60.5 L259,66 L259,71.5 L259,77 L259,82.5 L259,88 L259,93.5 L259,99 L259,104.5 L259,110 L260.7,120.5 L264.5,127 L267.3,132.5 L269.8,140 L272.5,147.2 L275.2,153.6 L277.5,158.8 L279.8,164.2 L282.4,170.5 L285.9,176.6 L289.6,183 L294.4,189.3 L299,195.2 L304.4,199.9 L310.5,206.3 L316.2,212.8 L322.2,220.5" fill="none" stroke="#c8a8c8" stroke-width="1"/>
<g fill="#2d6c97"><circle cx="259.3" cy="31" r="3.05"/><circle cx="259.3" cy="32.25" r="3.05"/><circle cx="259.3" cy="33.5" r="3.05"/><circle cx="259.3" cy="34.75" r="3.05"/><circle cx="259.3" cy="36" r="3.05"/><circle cx="259.3" cy="37.25" r="3.05"/><circle cx="259.3" cy="38.5" r="3.05"/><circle cx="259.3" cy="39.75" r="3.05"/><circle cx="259.3" cy="41" r="3.05"/><circle cx="259.3" cy="42.25" r="3.05"/><circle cx="259.3" cy="43.5" r="3.05"/><circle cx="259.3" cy="44.75" r="3.05"/><circle cx="259.3" cy="46" r="3.05"/><circle cx="259.3" cy="47.25" r="3.05"/><circle cx="259.3" cy="48.5" r="3.05"/><circle cx="259.3" cy="49.75" r="3.05"/><circle cx="259.3" cy="51" r="3.05"/><circle cx="259.3" cy="52.25" r="3.05"/><circle cx="259.3" cy="53.5" r="3.05"/><circle cx="259.3" cy="54.75" r="3.05"/><circle cx="259.3" cy="56" r="3.05"/><circle cx="259" cy="60.5" r="3.05"/><circle cx="259" cy="66" r="3.05"/><circle cx="259" cy="71.5" r="3.05"/><circle cx="259" cy="77" r="3.05"/><circle cx="259" cy="82.5" r="3.05"/><circle cx="259" cy="88" r="3.05"/><circle cx="259" cy="93.5" r="3.05"/><circle cx="259" cy="99" r="3.05"/><circle cx="259" cy="104.5" r="3.05"/><circle cx="259" cy="110" r="3.05"/><circle cx="260.7" cy="120.5" r="3.05"/><circle cx="264.5" cy="127" r="3.05"/><circle cx="267.3" cy="132.5" r="3.05"/><circle cx="269.8" cy="140" r="3.05"/><circle cx="272.5" cy="147.2" r="3.05"/><circle cx="275.2" cy="153.6" r="3.05"/><circle cx="277.5" cy="158.8" r="3.05"/><circle cx="279.8" cy="164.2" r="3.05"/><circle cx="282.4" cy="170.5" r="3.05"/><circle cx="285.9" cy="176.6" r="3.05"/><circle cx="289.6" cy="183" r="3.05"/><circle cx="294.4" cy="189.3" r="3.05"/><circle cx="299" cy="195.2" r="3.05"/><circle cx="304.4" cy="199.9" r="3.05"/><circle cx="310.5" cy="206.3" r="3.05"/><circle cx="316.2" cy="212.8" r="3.05"/><circle cx="322.2" cy="220.5" r="3.05"/></g>
</g>
<path d="M624,332.2 L630,329.6 L635.6,325 L642,322.7 L645.8,321.8 L649.5,319.4 L652.2,320.3 L655,319.9 L658.7,321.8 L661.5,322.2 L665.2,322.7 L671.7,324.3 L676.7,321.8 L681.7,323.2 L686.7,322.2 L691.8,321 L695.9,306.3 L700.5,317.8 L704,314.5 L709.3,315 L713.5,298.4 L717.5,282.2 L720.5,298.4 L724.2,314.3 L728.4,321.8 L733.4,326.9 L738.4,330.2 L745.1,329.4 L751.8,331 L760,331 L780,331.5 L800,331.5 L820,331.5 L840,331.5 L851.6,331.1 L861.9,324.1 L872.8,318.3 L881.1,323.4 L891.4,329.2 L901.7,329.8 L904.5,332" fill="none" stroke="#78a694" stroke-width="1.9" stroke-linejoin="round"/>
<path d="M628,332.2 L632.4,331 L638.8,327.4 L646,326.9 L654.2,325.3 L659.3,324.3 L663.4,324.8 L670,323.3 L676.7,323.2 L682.6,329.4 L686.7,324.3 L690.9,327.7 L695.9,318.5 L700.1,323.5 L705.1,323.2 L710.2,321.8 L715.2,317.7 L718.3,318.5 L723.4,323.5 L728.4,311.8 L733.4,305.1 L738.8,315.8 L741.6,313.3 L745,296.5 L751,289.2 L755,279.7 L760.8,272.7 L766,269.8 L768.9,244.8 L772.4,224 L778.1,197.4 L782.6,116.7 L786.5,200 L789.7,270 L791.9,298.1 L794.3,321.3 L796.6,329.8 L800.4,329.8 L802.7,327.5 L805,312 L807.8,305.1 L809.4,295 L810.4,240.8 L814.7,267.8 L817.8,272.5 L819.3,280 L819.7,298.1 L822,318.2 L825.1,328.2 L831.3,329.8 L845,327.5 L850.3,326.5 L861.9,320.8 L871.5,328 L879.2,308.5 L888.8,319 L899.8,325 L904.3,331.8" fill="none" stroke="#942b1d" stroke-width="1.9" stroke-linejoin="round"/>
<path d="M630,332.4 L634.2,332 L640.8,331 L645,330.3 L651.1,328.9 L659.3,327.4 L666.5,326.3 L671.7,326.9 L681.7,323.5 L686.7,322.7 L690.9,324.3 L695.9,316 L699.3,321.8 L705.1,321 L710.2,320.2 L715.2,313.5 L719.2,315.2 L723.4,321.8 L728.4,314.3 L733.4,308.5 L738.5,316.5 L741.4,311.2 L746.3,303.4 L753.4,295.6 L760.8,290.7 L767.7,293.6 L772.1,282 L778.1,293.6 L783.4,281.4 L787.3,300.6 L793,320.4 L795,326 L800.4,326.7 L802.7,329.8 L804.3,321.3 L806.6,295 L808.1,284.3 L809.5,270 L809.8,200 L811.6,180 L814.5,146 L817,39.5 L818.5,180 L819.5,250 L820.5,275 L822.8,290.4 L825.9,305.9 L829.8,318.2 L834.4,325.9 L839,327.5 L845,328.2 L850.3,326 L861.9,320.2 L871.5,324.1 L879.2,308 L888.8,318.3 L899.8,324.1 L904.3,331.8" fill="none" stroke="#ec8a58" stroke-width="1.9" stroke-linejoin="round"/>
<path d="M613.5,332.2 L615.5,330.5 L617.2,328.5 L618.6,331.2 L623.5,331 L630.9,329.6 L635.5,328.6 L642,327.7 L649,326.9 L656.2,325.6 L661.4,324.8 L665,324.3 L670,325.2 L676.7,322.7 L681.7,325.2 L686.7,323.5 L691.8,326 L695.9,321 L700.1,325.2 L705.1,326 L710.2,325.2 L715.2,320.2 L718.3,321 L723.4,326 L726.7,323.5 L731.7,317.7 L738.5,320.4 L741.8,315.4 L745.6,303.4 L750.6,293.5 L755,275 L760.8,256.2 L764.8,271.6 L767.2,283.1 L771.8,313.3 L777.4,321.8 L783.1,326.7 L788.1,329.8 L795.8,327.5 L800.4,329.8 L808.1,331.3 L820,331.5 L830,331.2 L840,331 L850.3,329.2 L862.5,322.1 L872.1,325.3 L878.6,317.6 L890.1,327.3 L900.4,327.3 L904.3,331.8" fill="none" stroke="#27579a" stroke-width="1.9" stroke-linejoin="round"/>
<rect x="63.0" y="9.75" width="401.2" height="322.65" fill="none" stroke="#111" stroke-width="1.7"/>
<rect x="546.9" y="8.7" width="402.5" height="323.7" fill="none" stroke="#111" stroke-width="1.7"/>
<line x1="63.0" y1="332.4" x2="69.5" y2="332.4" stroke="#111" stroke-width="1.6"/>
<line x1="63.0" y1="316.21" x2="66.5" y2="316.21" stroke="#111" stroke-width="1.4"/>
<line x1="63.0" y1="306.74" x2="66.5" y2="306.74" stroke="#111" stroke-width="1.4"/>
<line x1="63.0" y1="300.02" x2="66.5" y2="300.02" stroke="#111" stroke-width="1.4"/>
<line x1="63.0" y1="294.81" x2="66.5" y2="294.81" stroke="#111" stroke-width="1.4"/>
<line x1="63.0" y1="290.55" x2="66.5" y2="290.55" stroke="#111" stroke-width="1.4"/>
<line x1="63.0" y1="286.95" x2="66.5" y2="286.95" stroke="#111" stroke-width="1.4"/>
<line x1="63.0" y1="283.84" x2="66.5" y2="283.84" stroke="#111" stroke-width="1.4"/>
<line x1="63.0" y1="281.09" x2="66.5" y2="281.09" stroke="#111" stroke-width="1.4"/>
<line x1="63.0" y1="278.62" x2="69.5" y2="278.62" stroke="#111" stroke-width="1.6"/>
<line x1="63.0" y1="262.44" x2="66.5" y2="262.44" stroke="#111" stroke-width="1.4"/>
<line x1="63.0" y1="252.97" x2="66.5" y2="252.97" stroke="#111" stroke-width="1.4"/>
<line x1="63.0" y1="246.25" x2="66.5" y2="246.25" stroke="#111" stroke-width="1.4"/>
<line x1="63.0" y1="241.04" x2="66.5" y2="241.04" stroke="#111" stroke-width="1.4"/>
<line x1="63.0" y1="236.78" x2="66.5" y2="236.78" stroke="#111" stroke-width="1.4"/>
<line x1="63.0" y1="233.18" x2="66.5" y2="233.18" stroke="#111" stroke-width="1.4"/>
<line x1="63.0" y1="230.06" x2="66.5" y2="230.06" stroke="#111" stroke-width="1.4"/>
<line x1="63.0" y1="227.31" x2="66.5" y2="227.31" stroke="#111" stroke-width="1.4"/>
<line x1="63.0" y1="224.85" x2="69.5" y2="224.85" stroke="#111" stroke-width="1.6"/>
<line x1="63.0" y1="208.66" x2="66.5" y2="208.66" stroke="#111" stroke-width="1.4"/>
<line x1="63.0" y1="199.19" x2="66.5" y2="199.19" stroke="#111" stroke-width="1.4"/>
<line x1="63.0" y1="192.47" x2="66.5" y2="192.47" stroke="#111" stroke-width="1.4"/>
<line x1="63.0" y1="187.26" x2="66.5" y2="187.26" stroke="#111" stroke-width="1.4"/>
<line x1="63.0" y1="183" x2="66.5" y2="183" stroke="#111" stroke-width="1.4"/>
<line x1="63.0" y1="179.4" x2="66.5" y2="179.4" stroke="#111" stroke-width="1.4"/>
<line x1="63.0" y1="176.29" x2="66.5" y2="176.29" stroke="#111" stroke-width="1.4"/>
<line x1="63.0" y1="173.54" x2="66.5" y2="173.54" stroke="#111" stroke-width="1.4"/>
<line x1="63.0" y1="171.07" x2="69.5" y2="171.07" stroke="#111" stroke-width="1.6"/>
<line x1="63.0" y1="154.89" x2="66.5" y2="154.89" stroke="#111" stroke-width="1.4"/>
<line x1="63.0" y1="145.42" x2="66.5" y2="145.42" stroke="#111" stroke-width="1.4"/>
<line x1="63.0" y1="138.7" x2="66.5" y2="138.7" stroke="#111" stroke-width="1.4"/>
<line x1="63.0" y1="133.49" x2="66.5" y2="133.49" stroke="#111" stroke-width="1.4"/>
<line x1="63.0" y1="129.23" x2="66.5" y2="129.23" stroke="#111" stroke-width="1.4"/>
<line x1="63.0" y1="125.63" x2="66.5" y2="125.63" stroke="#111" stroke-width="1.4"/>
<line x1="63.0" y1="122.51" x2="66.5" y2="122.51" stroke="#111" stroke-width="1.4"/>
<line x1="63.0" y1="119.76" x2="66.5" y2="119.76" stroke="#111" stroke-width="1.4"/>
<line x1="63.0" y1="117.3" x2="69.5" y2="117.3" stroke="#111" stroke-width="1.6"/>
<line x1="63.0" y1="101.11" x2="66.5" y2="101.11" stroke="#111" stroke-width="1.4"/>
<line x1="63.0" y1="91.64" x2="66.5" y2="91.64" stroke="#111" stroke-width="1.4"/>
<line x1="63.0" y1="84.92" x2="66.5" y2="84.92" stroke="#111" stroke-width="1.4"/>
<line x1="63.0" y1="79.71" x2="66.5" y2="79.71" stroke="#111" stroke-width="1.4"/>
<line x1="63.0" y1="75.45" x2="66.5" y2="75.45" stroke="#111" stroke-width="1.4"/>
<line x1="63.0" y1="71.85" x2="66.5" y2="71.85" stroke="#111" stroke-width="1.4"/>
<line x1="63.0" y1="68.74" x2="66.5" y2="68.74" stroke="#111" stroke-width="1.4"/>
<line x1="63.0" y1="65.99" x2="66.5" y2="65.99" stroke="#111" stroke-width="1.4"/>
<line x1="63.0" y1="63.52" x2="69.5" y2="63.52" stroke="#111" stroke-width="1.6"/>
<line x1="63.0" y1="47.34" x2="66.5" y2="47.34" stroke="#111" stroke-width="1.4"/>
<line x1="63.0" y1="37.87" x2="66.5" y2="37.87" stroke="#111" stroke-width="1.4"/>
<line x1="63.0" y1="31.15" x2="66.5" y2="31.15" stroke="#111" stroke-width="1.4"/>
<line x1="63.0" y1="25.94" x2="66.5" y2="25.94" stroke="#111" stroke-width="1.4"/>
<line x1="63.0" y1="21.68" x2="66.5" y2="21.68" stroke="#111" stroke-width="1.4"/>
<line x1="63.0" y1="18.08" x2="66.5" y2="18.08" stroke="#111" stroke-width="1.4"/>
<line x1="63.0" y1="14.96" x2="66.5" y2="14.96" stroke="#111" stroke-width="1.4"/>
<line x1="63.0" y1="12.21" x2="66.5" y2="12.21" stroke="#111" stroke-width="1.4"/>
<line x1="63.0" y1="9.75" x2="69.5" y2="9.75" stroke="#111" stroke-width="1.6"/>
<line x1="96.43" y1="332.4" x2="96.43" y2="325.9" stroke="#111" stroke-width="1.6"/>
<line x1="163.3" y1="332.4" x2="163.3" y2="325.9" stroke="#111" stroke-width="1.6"/>
<line x1="230.17" y1="332.4" x2="230.17" y2="325.9" stroke="#111" stroke-width="1.6"/>
<line x1="297.03" y1="332.4" x2="297.03" y2="325.9" stroke="#111" stroke-width="1.6"/>
<line x1="363.9" y1="332.4" x2="363.9" y2="325.9" stroke="#111" stroke-width="1.6"/>
<line x1="430.77" y1="332.4" x2="430.77" y2="325.9" stroke="#111" stroke-width="1.6"/>
<line x1="129.87" y1="332.4" x2="129.87" y2="328.9" stroke="#111" stroke-width="1.4"/>
<line x1="196.73" y1="332.4" x2="196.73" y2="328.9" stroke="#111" stroke-width="1.4"/>
<line x1="263.6" y1="332.4" x2="263.6" y2="328.9" stroke="#111" stroke-width="1.4"/>
<line x1="330.47" y1="332.4" x2="330.47" y2="328.9" stroke="#111" stroke-width="1.4"/>
<line x1="397.33" y1="332.4" x2="397.33" y2="328.9" stroke="#111" stroke-width="1.4"/>
<line x1="546.9" y1="332.4" x2="553.4" y2="332.4" stroke="#111" stroke-width="1.6"/>
<line x1="546.9" y1="251.47" x2="553.4" y2="251.47" stroke="#111" stroke-width="1.6"/>
<line x1="546.9" y1="170.55" x2="553.4" y2="170.55" stroke="#111" stroke-width="1.6"/>
<line x1="546.9" y1="89.62" x2="553.4" y2="89.62" stroke="#111" stroke-width="1.6"/>
<line x1="546.9" y1="8.7" x2="553.4" y2="8.7" stroke="#111" stroke-width="1.6"/>
<line x1="546.9" y1="291.94" x2="550.4" y2="291.94" stroke="#111" stroke-width="1.4"/>
<line x1="546.9" y1="211.01" x2="550.4" y2="211.01" stroke="#111" stroke-width="1.4"/>
<line x1="546.9" y1="130.09" x2="550.4" y2="130.09" stroke="#111" stroke-width="1.4"/>
<line x1="546.9" y1="49.16" x2="550.4" y2="49.16" stroke="#111" stroke-width="1.4"/>
<line x1="546.9" y1="332.4" x2="546.9" y2="325.9" stroke="#111" stroke-width="1.6"/>
<line x1="564.21" y1="332.4" x2="564.21" y2="328.9" stroke="#111" stroke-width="1.4"/>
<line x1="574.33" y1="332.4" x2="574.33" y2="328.9" stroke="#111" stroke-width="1.4"/>
<line x1="581.52" y1="332.4" x2="581.52" y2="328.9" stroke="#111" stroke-width="1.4"/>
<line x1="587.09" y1="332.4" x2="587.09" y2="328.9" stroke="#111" stroke-width="1.4"/>
<line x1="591.64" y1="332.4" x2="591.64" y2="328.9" stroke="#111" stroke-width="1.4"/>
<line x1="595.49" y1="332.4" x2="595.49" y2="328.9" stroke="#111" stroke-width="1.4"/>
<line x1="598.83" y1="332.4" x2="598.83" y2="328.9" stroke="#111" stroke-width="1.4"/>
<line x1="601.77" y1="332.4" x2="601.77" y2="328.9" stroke="#111" stroke-width="1.4"/>
<line x1="604.4" y1="332.4" x2="604.4" y2="325.9" stroke="#111" stroke-width="1.6"/>
<line x1="621.71" y1="332.4" x2="621.71" y2="328.9" stroke="#111" stroke-width="1.4"/>
<line x1="631.83" y1="332.4" x2="631.83" y2="328.9" stroke="#111" stroke-width="1.4"/>
<line x1="639.02" y1="332.4" x2="639.02" y2="328.9" stroke="#111" stroke-width="1.4"/>
<line x1="644.59" y1="332.4" x2="644.59" y2="328.9" stroke="#111" stroke-width="1.4"/>
<line x1="649.14" y1="332.4" x2="649.14" y2="328.9" stroke="#111" stroke-width="1.4"/>
<line x1="652.99" y1="332.4" x2="652.99" y2="328.9" stroke="#111" stroke-width="1.4"/>
<line x1="656.33" y1="332.4" x2="656.33" y2="328.9" stroke="#111" stroke-width="1.4"/>
<line x1="659.27" y1="332.4" x2="659.27" y2="328.9" stroke="#111" stroke-width="1.4"/>
<line x1="661.9" y1="332.4" x2="661.9" y2="325.9" stroke="#111" stroke-width="1.6"/>
<line x1="679.21" y1="332.4" x2="679.21" y2="328.9" stroke="#111" stroke-width="1.4"/>
<line x1="689.33" y1="332.4" x2="689.33" y2="328.9" stroke="#111" stroke-width="1.4"/>
<line x1="696.52" y1="332.4" x2="696.52" y2="328.9" stroke="#111" stroke-width="1.4"/>
<line x1="702.09" y1="332.4" x2="702.09" y2="328.9" stroke="#111" stroke-width="1.4"/>
<line x1="706.64" y1="332.4" x2="706.64" y2="328.9" stroke="#111" stroke-width="1.4"/>
<line x1="710.49" y1="332.4" x2="710.49" y2="328.9" stroke="#111" stroke-width="1.4"/>
<line x1="713.83" y1="332.4" x2="713.83" y2="328.9" stroke="#111" stroke-width="1.4"/>
<line x1="716.77" y1="332.4" x2="716.77" y2="328.9" stroke="#111" stroke-width="1.4"/>
<line x1="719.4" y1="332.4" x2="719.4" y2="325.9" stroke="#111" stroke-width="1.6"/>
<line x1="736.71" y1="332.4" x2="736.71" y2="328.9" stroke="#111" stroke-width="1.4"/>
<line x1="746.83" y1="332.4" x2="746.83" y2="328.9" stroke="#111" stroke-width="1.4"/>
<line x1="754.02" y1="332.4" x2="754.02" y2="328.9" stroke="#111" stroke-width="1.4"/>
<line x1="759.59" y1="332.4" x2="759.59" y2="328.9" stroke="#111" stroke-width="1.4"/>
<line x1="764.14" y1="332.4" x2="764.14" y2="328.9" stroke="#111" stroke-width="1.4"/>
<line x1="767.99" y1="332.4" x2="767.99" y2="328.9" stroke="#111" stroke-width="1.4"/>
<line x1="771.33" y1="332.4" x2="771.33" y2="328.9" stroke="#111" stroke-width="1.4"/>
<line x1="774.27" y1="332.4" x2="774.27" y2="328.9" stroke="#111" stroke-width="1.4"/>
<line x1="776.9" y1="332.4" x2="776.9" y2="325.9" stroke="#111" stroke-width="1.6"/>
<line x1="794.21" y1="332.4" x2="794.21" y2="328.9" stroke="#111" stroke-width="1.4"/>
<line x1="804.33" y1="332.4" x2="804.33" y2="328.9" stroke="#111" stroke-width="1.4"/>
<line x1="811.52" y1="332.4" x2="811.52" y2="328.9" stroke="#111" stroke-width="1.4"/>
<line x1="817.09" y1="332.4" x2="817.09" y2="328.9" stroke="#111" stroke-width="1.4"/>
<line x1="821.64" y1="332.4" x2="821.64" y2="328.9" stroke="#111" stroke-width="1.4"/>
<line x1="825.49" y1="332.4" x2="825.49" y2="328.9" stroke="#111" stroke-width="1.4"/>
<line x1="828.83" y1="332.4" x2="828.83" y2="328.9" stroke="#111" stroke-width="1.4"/>
<line x1="831.77" y1="332.4" x2="831.77" y2="328.9" stroke="#111" stroke-width="1.4"/>
<line x1="834.4" y1="332.4" x2="834.4" y2="325.9" stroke="#111" stroke-width="1.6"/>
<line x1="851.71" y1="332.4" x2="851.71" y2="328.9" stroke="#111" stroke-width="1.4"/>
<line x1="861.83" y1="332.4" x2="861.83" y2="328.9" stroke="#111" stroke-width="1.4"/>
<line x1="869.02" y1="332.4" x2="869.02" y2="328.9" stroke="#111" stroke-width="1.4"/>
<line x1="874.59" y1="332.4" x2="874.59" y2="328.9" stroke="#111" stroke-width="1.4"/>
<line x1="879.14" y1="332.4" x2="879.14" y2="328.9" stroke="#111" stroke-width="1.4"/>
<line x1="882.99" y1="332.4" x2="882.99" y2="328.9" stroke="#111" stroke-width="1.4"/>
<line x1="886.33" y1="332.4" x2="886.33" y2="328.9" stroke="#111" stroke-width="1.4"/>
<line x1="889.27" y1="332.4" x2="889.27" y2="328.9" stroke="#111" stroke-width="1.4"/>
<line x1="891.9" y1="332.4" x2="891.9" y2="325.9" stroke="#111" stroke-width="1.6"/>
<line x1="909.21" y1="332.4" x2="909.21" y2="328.9" stroke="#111" stroke-width="1.4"/>
<line x1="919.33" y1="332.4" x2="919.33" y2="328.9" stroke="#111" stroke-width="1.4"/>
<line x1="926.52" y1="332.4" x2="926.52" y2="328.9" stroke="#111" stroke-width="1.4"/>
<line x1="932.09" y1="332.4" x2="932.09" y2="328.9" stroke="#111" stroke-width="1.4"/>
<line x1="936.64" y1="332.4" x2="936.64" y2="328.9" stroke="#111" stroke-width="1.4"/>
<line x1="940.49" y1="332.4" x2="940.49" y2="328.9" stroke="#111" stroke-width="1.4"/>
<line x1="943.83" y1="332.4" x2="943.83" y2="328.9" stroke="#111" stroke-width="1.4"/>
<line x1="946.77" y1="332.4" x2="946.77" y2="328.9" stroke="#111" stroke-width="1.4"/>
<line x1="949.4" y1="332.4" x2="949.4" y2="325.9" stroke="#111" stroke-width="1.6"/>
<g font-family="Liberation Serif" fill="#111"><text transform="translate(56.2,15.35) scale(0.99,1.0)" text-anchor="end" font-weight="bold" font-size="17" stroke="#111" stroke-width="0.3">1000</text>
<text transform="translate(56.2,69.12) scale(0.99,1.0)" text-anchor="end" font-weight="bold" font-size="17" stroke="#111" stroke-width="0.3">100</text>
<text transform="translate(56.2,122.9) scale(0.99,1.0)" text-anchor="end" font-weight="bold" font-size="17" stroke="#111" stroke-width="0.3">10</text>
<text transform="translate(56.2,176.67) scale(0.99,1.0)" text-anchor="end" font-weight="bold" font-size="17" stroke="#111" stroke-width="0.3">1</text>
<text transform="translate(56.2,230.45) scale(0.99,1.0)" text-anchor="end" font-weight="bold" font-size="17" stroke="#111" stroke-width="0.3">0.1</text>
<text transform="translate(56.2,284.23) scale(0.99,1.0)" text-anchor="end" font-weight="bold" font-size="17" stroke="#111" stroke-width="0.3">0.01</text>
<text transform="translate(56.2,338) scale(0.99,1.0)" text-anchor="end" font-weight="bold" font-size="17" stroke="#111" stroke-width="0.3">0.001</text>
<text transform="translate(96.43,352.6) scale(0.99,1.0)" text-anchor="middle" font-weight="bold" font-size="17" stroke="#111" stroke-width="0.3">100</text>
<text transform="translate(163.3,352.6) scale(0.99,1.0)" text-anchor="middle" font-weight="bold" font-size="17" stroke="#111" stroke-width="0.3">80</text>
<text transform="translate(230.17,352.6) scale(0.99,1.0)" text-anchor="middle" font-weight="bold" font-size="17" stroke="#111" stroke-width="0.3">60</text>
<text transform="translate(297.03,352.6) scale(0.99,1.0)" text-anchor="middle" font-weight="bold" font-size="17" stroke="#111" stroke-width="0.3">40</text>
<text transform="translate(363.9,352.6) scale(0.99,1.0)" text-anchor="middle" font-weight="bold" font-size="17" stroke="#111" stroke-width="0.3">20</text>
<text transform="translate(430.77,352.6) scale(0.99,1.0)" text-anchor="middle" font-weight="bold" font-size="17" stroke="#111" stroke-width="0.3">0</text>
<text transform="translate(539.6,338) scale(0.99,1.0)" text-anchor="end" font-weight="bold" font-size="17" stroke="#111" stroke-width="0.3">0</text>
<text transform="translate(539.6,257.07) scale(0.99,1.0)" text-anchor="end" font-weight="bold" font-size="17" stroke="#111" stroke-width="0.3">1</text>
<text transform="translate(539.6,176.15) scale(0.99,1.0)" text-anchor="end" font-weight="bold" font-size="17" stroke="#111" stroke-width="0.3">2</text>
<text transform="translate(539.6,95.22) scale(0.99,1.0)" text-anchor="end" font-weight="bold" font-size="17" stroke="#111" stroke-width="0.3">3</text>
<text transform="translate(539.6,14.3) scale(0.99,1.0)" text-anchor="end" font-weight="bold" font-size="17" stroke="#111" stroke-width="0.3">4</text>
<text transform="translate(546.9,352.6) scale(0.99,1.0)" text-anchor="middle" font-weight="bold" font-size="17" stroke="#111" stroke-width="0.3">1E-4</text>
<text transform="translate(604.4,352.6) scale(0.99,1.0)" text-anchor="middle" font-weight="bold" font-size="17" stroke="#111" stroke-width="0.3">0.001</text>
<text transform="translate(661.9,352.6) scale(0.99,1.0)" text-anchor="middle" font-weight="bold" font-size="17" stroke="#111" stroke-width="0.3">0.01</text>
<text transform="translate(719.4,352.6) scale(0.99,1.0)" text-anchor="middle" font-weight="bold" font-size="17" stroke="#111" stroke-width="0.3">0.1</text>
<text transform="translate(776.9,352.6) scale(0.99,1.0)" text-anchor="middle" font-weight="bold" font-size="17" stroke="#111" stroke-width="0.3">1</text>
<text transform="translate(834.4,352.6) scale(0.99,1.0)" text-anchor="middle" font-weight="bold" font-size="17" stroke="#111" stroke-width="0.3">10</text>
<text transform="translate(891.9,352.6) scale(0.99,1.0)" text-anchor="middle" font-weight="bold" font-size="17" stroke="#111" stroke-width="0.3">100</text>
<text transform="translate(949.4,352.6) scale(0.99,1.0)" text-anchor="middle" font-weight="bold" font-size="17" stroke="#111" stroke-width="0.3">1000</text>
<text x="172" y="374" font-weight="bold" font-size="18.2" stroke="#111" stroke-width="0.3"><tspan font-style="italic">Mercury Saturation</tspan> (%)</text>
<text x="680" y="382.5" font-weight="bold" font-size="18.5" stroke="#111" stroke-width="0.3"><tspan font-style="italic">Pore Radius</tspan> (μm)</text>
<text transform="translate(15.9,242.7) rotate(-90)" font-weight="bold" font-size="18.2" stroke="#111" stroke-width="0.3"><tspan font-style="italic">Pressure</tspan> (MPa)</text>
<text transform="translate(524.6,265.2) rotate(-90)" font-weight="bold" font-size="18.35" stroke="#111" stroke-width="0.3"><tspan font-style="italic">Porosity Component</tspan> (%)</text>
<text transform="translate(68.6,31.6) scale(1.06,1)" font-size="21.8" letter-spacing="0.5" stroke="#111" stroke-width="0.2">(a)</text>
<text transform="translate(550.4,30.6) scale(1.06,1)" font-size="21.8" letter-spacing="0.5" stroke="#111" stroke-width="0.2">(b)</text>
<line x1="321" y1="22.9" x2="352" y2="22.9" stroke="#b4a6a4" stroke-width="1.8"/>
<circle cx="336.5" cy="22.9" r="3" fill="#942b21"/>
<text x="355.6" y="27.6" font-size="13.75" stroke="#111" stroke-width="0.2">HUK18-3556.4m</text>
<line x1="321" y1="39.8" x2="352" y2="39.8" stroke="#b0bce6" stroke-width="1.2"/>
<circle cx="336.5" cy="39.8" r="3" fill="#efa064"/>
<text x="355.6" y="44.5" font-size="13.75" stroke="#111" stroke-width="0.2">HUKJ3-3058.67m</text>
<line x1="321" y1="56.9" x2="352" y2="56.9" stroke="#b0aca8" stroke-width="1.8"/>
<circle cx="336.5" cy="56.9" r="3" fill="#8fab98"/>
<text x="355.6" y="61.6" font-size="13.75" stroke="#111" stroke-width="0.2">HUK3-3570.6m</text>
<line x1="321" y1="74.2" x2="352" y2="74.2" stroke="#d4c8dc" stroke-width="1.5"/>
<circle cx="336.5" cy="74.2" r="3" fill="#2d6c97"/>
<text x="355.6" y="78.9" font-size="13.75" stroke="#111" stroke-width="0.2">HU001-3589.36m</text>
<line x1="581.5" y1="22.1" x2="613.5" y2="22.1" stroke="#942b1d" stroke-width="1.8"/>
<text transform="translate(616.4,26.7) scale(1,0.95)" font-size="13.75" stroke="#111" stroke-width="0.2">HUK18-3556.4m</text>
<line x1="581.5" y1="39.3" x2="613.5" y2="39.3" stroke="#ec8a58" stroke-width="1.8"/>
<text transform="translate(616.4,43.9) scale(1,0.95)" font-size="13.75" stroke="#111" stroke-width="0.2">HUKJ3-3058.67m</text>
<line x1="581.5" y1="56.4" x2="613.5" y2="56.4" stroke="#78a694" stroke-width="1.8"/>
<text transform="translate(616.4,61) scale(1,0.95)" font-size="13.75" stroke="#111" stroke-width="0.2">HUK3-3570.6m</text>
<line x1="581.5" y1="73.6" x2="613.5" y2="73.6" stroke="#27579a" stroke-width="1.8"/>
<text transform="translate(616.4,78.2) scale(1,0.95)" font-size="13.75" stroke="#111" stroke-width="0.2">HU001-3589.36m</text></g>
<line x1="0" y1="387" x2="969" y2="387" stroke="#e2e2e2" stroke-width="1"/>
<line x1="967.5" y1="0" x2="967.5" y2="389" stroke="#ececec" stroke-width="1"/>
</svg>
</body></html>
